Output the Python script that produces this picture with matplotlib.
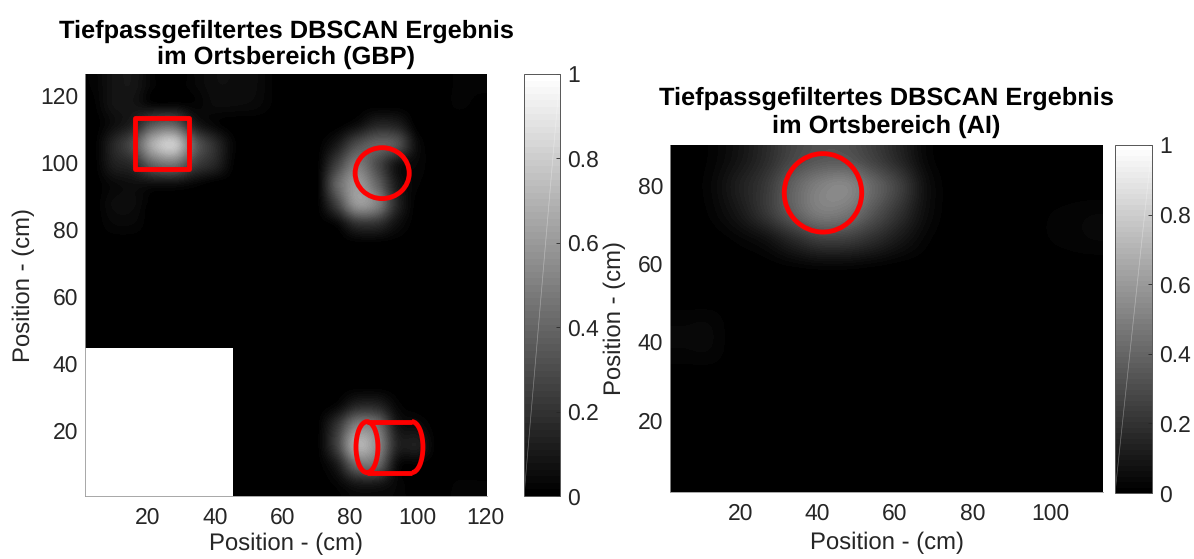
import matplotlib
matplotlib.use("Agg")
import matplotlib.pyplot as plt
import matplotlib.patches as mpatches
import numpy as np

plt.rcParams["font.family"] = ["Liberation Sans", "DejaVu Sans"]
plt.rcParams["text.hinting"] = "no_hinting"

W, H = 1194, 559
TEXT = "#262626"
RED = "#ff0000"

# hand, percent of full scale, top row first, 6 cm cells
gbp_map = [
    [2, 8, 9, 2, 0, 3, 6, 6, 5, 1, 0, 0, 0, 0, 0, 0, 0, 0, 2, 2],
    [1, 8, 8, 3, 3, 2, 5, 5, 4, 1, 0, 0, 0, 0, 0, 0, 0, 0, 2, 1],
    [0, 6, 14, 35, 38, 12, 3, 0, 0, 0, 0, 0, 0, 5, 14, 12, 0, 0, 0, 0],
    [0, 15, 32, 68, 78, 38, 18, 2, 0, 0, 0, 0, 10, 30, 38, 32, 5, 0, 0, 0],
    [0, 12, 18, 40, 45, 25, 15, 1, 0, 0, 0, 0, 25, 48, 30, 8, 3, 0, 0, 0],
    [0, 4, 6, 6, 6, 3, 0, 0, 0, 0, 0, 0, 38, 60, 40, 10, 2, 0, 0, 0],
    [0, 5, 5, 0, 0, 0, 0, 0, 0, 0, 0, 0, 25, 58, 50, 15, 0, 0, 0, 0],
    [0, 3, 3, 0, 0, 0, 0, 0, 0, 0, 0, 0, 3, 18, 18, 6, 0, 0, 0, 0],
    [0, 0, 0, 0, 0, 0, 0, 0, 0, 0, 0, 0, 0, 0, 0, 0, 0, 0, 0, 0],
    [0, 0, 0, 0, 0, 0, 0, 0, 0, 0, 0, 0, 0, 0, 0, 0, 0, 0, 0, 0],
    [0, 0, 0, 0, 0, 0, 0, 0, 0, 0, 0, 0, 0, 0, 0, 0, 0, 0, 0, 0],
    [0, 0, 0, 0, 0, 0, 0, 0, 0, 0, 0, 0, 0, 0, 0, 0, 0, 0, 0, 0],
    [0, 0, 0, 0, 0, 0, 0, 0, 0, 0, 0, 0, 0, 0, 0, 0, 0, 0, 0, 0],
    [0, 0, 0, 0, 0, 0, 0, 0, 0, 0, 0, 0, 0, 0, 0, 0, 0, 0, 0, 0],
    [0, 0, 0, 0, 0, 0, 0, 0, 0, 0, 0, 0, 0, 0, 0, 0, 0, 0, 0, 0],
    [0, 0, 0, 0, 0, 0, 0, 0, 0, 0, 0, 0, 0, 0, 0, 0, 0, 0, 1, 1],
    [0, 0, 0, 0, 0, 0, 0, 0, 0, 0, 0, 0, 3, 15, 15, 3, 0, 0, 0, 0],
    [0, 0, 0, 0, 0, 0, 0, 0, 0, 0, 0, 0, 20, 50, 45, 10, 5, 0, 0, 0],
    [0, 0, 0, 0, 0, 0, 0, 0, 0, 0, 0, 0, 25, 68, 55, 15, 12, 0, 0, 0],
    [0, 0, 0, 0, 0, 0, 0, 0, 0, 0, 0, 0, 10, 40, 40, 5, 1, 0, 0, 0],
    [0, 0, 0, 0, 0, 0, 0, 0, 0, 0, 0, 0, 2, 8, 8, 3, 0, 0, 2, 2],
]

# same, 7 cm cells
ai_map = [
    [0, 2, 8, 17, 28, 34, 34, 26, 15, 3, 0, 0, 0, 0, 0, 0],
    [0, 3, 12, 22, 38, 50, 53, 40, 25, 6, 0, 0, 0, 0, 0, 0],
    [0, 2, 9, 21, 36, 48, 46, 33, 19, 5, 0, 0, 0, 1, 2, 3],
    [0, 0, 2, 6, 15, 23, 23, 17, 9, 2, 0, 0, 0, 1, 2, 3],
    [0, 0, 0, 0, 1, 2, 2, 1, 0, 0, 0, 0, 0, 0, 0, 0],
    [0, 0, 0, 0, 0, 0, 0, 0, 0, 0, 0, 0, 0, 0, 0, 0],
    [3, 3, 0, 0, 0, 0, 0, 0, 0, 0, 0, 0, 0, 0, 0, 0],
    [3, 3, 0, 0, 0, 0, 0, 0, 0, 0, 0, 0, 0, 0, 0, 0],
    [0, 0, 0, 0, 0, 0, 0, 0, 0, 0, 0, 0, 0, 0, 0, 0],
    [0, 0, 0, 0, 0, 0, 0, 0, 0, 0, 0, 0, 0, 0, 0, 0],
    [0, 1, 0, 0, 0, 0, 0, 0, 0, 0, 0, 0, 0, 0, 0, 0],
    [0, 1, 0, 0, 0, 0, 0, 0, 0, 0, 0, 0, 0, 0, 0, 0],
    [0, 0, 0, 0, 0, 0, 0, 0, 0, 0, 0, 0, 0, 0, 0, 0],
]

gbp_xticks = [20, 40, 60, 80, 100, 120]
gbp_yticks = [20, 40, 60, 80, 100, 120]
ai_xticks = [20, 40, 60, 80, 100]
ai_yticks = [20, 40, 60, 80]
cbar_ticks = [0, 0.2, 0.4, 0.6, 0.8, 1]
cbar_labels = ["0", "0.2", "0.4", "0.6", "0.8", "1"]
gbp_title = "Tiefpassgefiltertes DBSCAN Ergebnis\nim Ortsbereich (GBP)"
ai_title = "Tiefpassgefiltertes DBSCAN Ergebnis\nim Ortsbereich (AI)"
axis_label = "Position - (cm)"


def px_axes(fig, left, top, right, bottom):
    return fig.add_axes([left / W, 1 - bottom / H, (right - left) / W, (bottom - top) / H])


def draw_map(ax, values, extent, xlim, ylim, xticks, yticks, title, title_pad, spacing):
    cmap = plt.get_cmap("gray", 64)
    im = ax.imshow(np.array(values) / 100, cmap=cmap, vmin=0, vmax=1, extent=extent,
                   aspect="auto", interpolation="catrom")
    ax.set_xlim(xlim)
    ax.set_ylim(ylim)
    ax.set_xticks(xticks)
    ax.set_yticks(yticks)
    ax.tick_params(length=0, labelsize=16.5, labelcolor=TEXT)
    ax.tick_params(axis="x", pad=8)
    ax.tick_params(axis="y", pad=5)
    ax.spines["top"].set_visible(False)
    ax.spines["right"].set_visible(False)
    ax.spines["left"].set_color("#999999")
    ax.spines["bottom"].set_color("#999999")
    ax.spines["left"].set_linewidth(0.6)
    ax.spines["bottom"].set_linewidth(0.6)
    ax.set_title(title, fontsize=18.3, fontweight="bold", color="black", pad=title_pad, linespacing=spacing)
    return im


def draw_colorbar(fig, im, left, top, right, bottom):
    cax = px_axes(fig, left, top, right, bottom)
    cbar = fig.colorbar(im, cax=cax)
    cbar.set_ticks(cbar_ticks)
    cbar.set_ticklabels(cbar_labels)
    cbar.ax.tick_params(direction="in", length=3, width=0.6, color=TEXT,
                        labelsize=16.5, labelcolor=TEXT, pad=5)
    cbar.outline.set_edgecolor("#555555")
    cbar.outline.set_linewidth(0.7)
    # the thin pale streak running across the bar in the original
    cax.plot([cax.get_xlim()[0], cax.get_xlim()[1]], [0, 1], color="white", lw=0.5, alpha=0.35)
    return cbar


fig = plt.figure(figsize=(W / 100, H / 100), dpi=100, facecolor="white")

# left panel
ax1 = px_axes(fig, 85, 74, 487, 496)
im1 = draw_map(ax1, gbp_map, (1, 121, 0.4, 126.4), (1.6, 120.5), (0.4, 126.4),
               gbp_xticks, gbp_yticks, gbp_title, 7, 1.2)
ax1.add_patch(mpatches.Rectangle((1.6, 0.4), 43.9, 44.3, facecolor="white", edgecolor="none", zorder=2))
ax1.set_xlabel(axis_label, fontsize=17.2, color=TEXT, labelpad=3)
ax1.set_ylabel(axis_label, fontsize=17.2, color=TEXT, labelpad=3.4)

shape_style = dict(fill=False, edgecolor=RED, linewidth=3.5, zorder=3)
ax1.add_patch(mpatches.Rectangle((16.4, 98), 16, 15.2, joinstyle="round", **shape_style))
ax1.add_patch(mpatches.Ellipse((89.5, 96.8), 16, 15.2, **shape_style))
ax1.add_patch(mpatches.Ellipse((85, 15), 6.5, 15.2, **shape_style))
ax1.add_patch(mpatches.Arc((98.3, 15), 6.5, 15.2, theta1=-90, theta2=90, edgecolor=RED, linewidth=3.5, zorder=3))
ax1.plot([85, 98.3], [22.6, 22.6], color=RED, lw=3.5, zorder=3, solid_capstyle="butt")
ax1.plot([85, 98.3], [7.4, 7.4], color=RED, lw=3.5, zorder=3, solid_capstyle="butt")
draw_colorbar(fig, im1, 524, 74, 560, 496)

# right panel
ax2 = px_axes(fig, 670, 145, 1103, 492)
im2 = draw_map(ax2, ai_map, (1.9, 113.9, -0.8, 90.2), (1.9, 113.7), (1.7, 90.2),
               ai_xticks, ai_yticks, ai_title, 9, 1.27)
ax2.set_xlabel(axis_label, fontsize=17.2, color=TEXT, labelpad=5)
ax2.set_ylabel(axis_label, fontsize=17.2, color=TEXT, labelpad=8)
ax2.add_patch(mpatches.Ellipse((41.4, 78), 20, 20, **shape_style))
draw_colorbar(fig, im2, 1115, 145, 1152, 493)

fig.savefig("out.png", dpi=100)
